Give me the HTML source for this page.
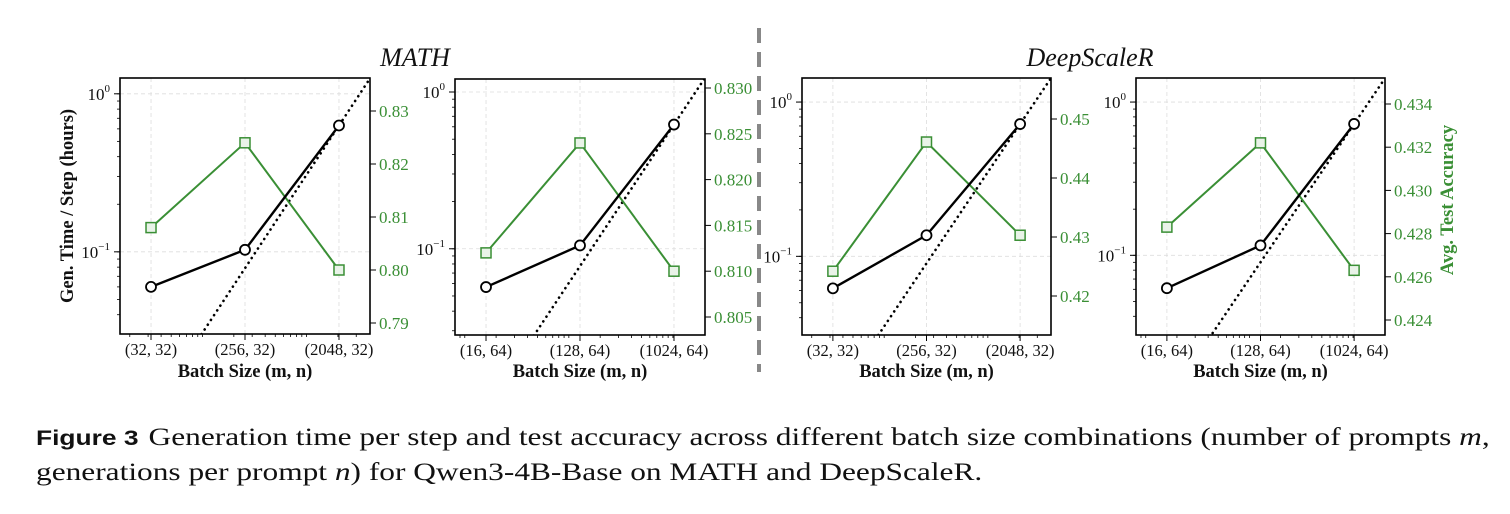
<!DOCTYPE html>
<html><head><meta charset="utf-8"><style>
body{margin:0;background:#fff;width:1510px;height:514px;overflow:hidden;position:relative;font-family:"Liberation Serif",serif}
#cap{position:absolute;left:36px;top:421px;font-size:25px;line-height:34px;color:#111;font-family:"Liberation Serif",serif;transform:scaleX(1.255);transform-origin:0 0;white-space:nowrap}
#cap b{font-family:"Liberation Sans",sans-serif;font-size:21px;margin-right:8px}
</style></head><body>
<svg id="chart" width="1510" height="400" style="position:absolute;left:0;top:0"></svg>
<div id="cap"><b>Figure 3</b>Generation time per step and test accuracy across different batch size combinations (number of prompts <i>m</i>,<br>generations per prompt <i>n</i>) for Qwen3-4B-Base on MATH and DeepScaleR.</div>
<script>
const mVals1=[32,256,2048];
const mVals2=[16,128,1024];
const nVals1=[32,32,32];
const nVals2=[64,64,64];
const timeP1=[0.060,0.103,0.63];
const timeP2=[0.057,0.105,0.62];
const timeP3=[0.062,0.137,0.72];
const timeP4=[0.061,0.116,0.72];
const accP1=[0.808,0.824,0.800];
const accP2=[0.812,0.824,0.810];
const accP3=[0.4242,0.4461,0.4303];
const accP4=[0.4283,0.4322,0.4263];
const accTicks1=[0.79,0.80,0.81,0.82,0.83];
const accTicks2=[0.805,0.810,0.815,0.820,0.825,0.830];
const accTicks3=[0.42,0.43,0.44,0.45];
const accTicks4=[0.424,0.426,0.428,0.430,0.432,0.434];
const accDec=[2,3,2,3];

const svg=document.getElementById('chart');
const NS='http://www.w3.org/2000/svg';
function mk(tag,attrs,parent){const e=document.createElementNS(NS,tag);for(const k in attrs)e.setAttribute(k,attrs[k]);(parent||svg).appendChild(e);return e;}
const GREEN='#3a8f35';

const panels=[
 {x0:120,x1:370,y0:78,y1:334,m:mVals1,n:nVals1,t:timeP1,a:accP1,at:accTicks1,yTop:0.1,yBot:-1.52,aTop:0.83,aTopY:111,aBot:0.79,aBotY:323},
 {x0:455,x1:705,y0:79,y1:335,m:mVals2,n:nVals2,t:timeP2,a:accP2,at:accTicks2,yTop:0.083,yBot:-1.55,aTop:0.830,aTopY:88,aBot:0.805,aBotY:317},
 {x0:802,x1:1051,y0:78,y1:335,m:mVals1,n:nVals1,t:timeP3,a:accP3,at:accTicks3,yTop:0.156,yBot:-1.51,aTop:0.45,aTopY:119,aBot:0.42,aBotY:296},
 {x0:1136,x1:1385,y0:78,y1:335,m:mVals2,n:nVals2,t:timeP4,a:accP4,at:accTicks4,yTop:0.157,yBot:-1.52,aTop:0.434,aTopY:104,aBot:0.424,aBotY:320}
];

panels.forEach((p,pi)=>{
  const g=mk('g',{});
  
  
  const lmin=Math.log10(p.m[0])-(Math.log10(p.m[2])-Math.log10(p.m[0]))*0.165;
  const lmax=Math.log10(p.m[2])+(Math.log10(p.m[2])-Math.log10(p.m[0]))*0.165;
  const X=v=>p.x0+(Math.log10(v)-lmin)/(lmax-lmin)*(p.x1-p.x0);
  const Y=v=>p.y0+(p.yTop-Math.log10(v))/(p.yTop-p.yBot)*(p.y1-p.y0);
  const A=v=>p.aTopY+(p.aTop-v)/(p.aTop-p.aBot)*(p.aBotY-p.aTopY);
  p.m.forEach(v=>{const l=mk('line',{x1:X(v),x2:X(v),y1:p.y0,y2:p.y1,stroke:'#ddd','stroke-dasharray':'4,3','stroke-width':0.8},g);});
  [1,0.1].forEach(v=>{const l=mk('line',{x1:p.x0,x2:p.x1,y1:Y(v),y2:Y(v),stroke:'#ddd','stroke-dasharray':'4,3','stroke-width':0.8},g);});
  for(let e=0;e<5;e++)for(let k=1;k<10;k++){const v=k*Math.pow(10,e);const xx=X(v);if(xx>p.x0+1&&xx<p.x1-1){mk('line',{x1:xx,x2:xx,y1:p.y1,y2:p.y1+3,stroke:'#000','stroke-width':0.8},g);}}
  for(let e=-2;e<1;e++)for(let k=1;k<10;k++){const v=k*Math.pow(10,e);const yy=Y(v);if(yy>p.y0+1&&yy<p.y1-1){mk('line',{x1:p.x0,x2:p.x0-3,y1:yy,y2:yy,stroke:'#000','stroke-width':0.8},g);}}
  [[1,'0'],[0.1,'\u22121']].forEach(([v,ex])=>{
    const yy=Y(v);mk('line',{x1:p.x0,x2:p.x0-6,y1:yy,y2:yy,stroke:'#000','stroke-width':1},g);
    const t=mk('text',{x:p.x0-10,y:yy+6,'text-anchor':'end','font-size':17,fill:'#111'},g);
    
    t.textContent='10';const s=mk('tspan',{dy:-8,'font-size':11},t);s.textContent=ex;
  });
  p.m.forEach((v,i)=>{
    mk('line',{x1:X(v),x2:X(v),y1:p.y1,y2:p.y1+6,stroke:'#000','stroke-width':1},g);
    const t=mk('text',{x:X(v),y:p.y1+21,'text-anchor':'middle','font-size':16.5,fill:'#111'},g);
    
    t.textContent='('+v+', '+p.n[i]+')';
  });
  p.at.forEach(v=>{
    const yy=A(v);mk('line',{x1:p.x1,x2:p.x1+6,y1:yy,y2:yy,stroke:'#000','stroke-width':1},g);
    const t=mk('text',{x:p.x1+9,y:yy+6,'font-size':17,fill:GREEN},g);
    
    t.textContent=v.toFixed(accDec[pi]);
  });
  const cid='c'+pi;const cp=mk('clipPath',{id:cid},g);mk('rect',{x:p.x0,y:p.y0,width:p.x1-p.x0,height:p.y1-p.y0},cp);
  const last=p.t[2],mL=p.m[2];const ma=Math.pow(10,lmin),mb=Math.pow(10,lmax);
  const dl=mk('line',{x1:X(ma),y1:Y(last*ma/mL),x2:X(mb),y2:Y(last*mb/mL),stroke:'#000','stroke-width':2.6,'stroke-dasharray':'0.1,5.6','stroke-linecap':'round','clip-path':'url(#'+cid+')'},g);
  
  const gl=mk('polyline',{points:p.m.map((v,i)=>X(v)+','+A(p.a[i])).join(' '),fill:'none',stroke:GREEN,'stroke-width':2},g);
  
  p.m.forEach((v,i)=>{const r=mk('rect',{x:X(v)-5,y:A(p.a[i])-5,width:10,height:10,fill:'#e9f3e8',stroke:GREEN,'stroke-width':1.5},g);});
  const bl=mk('polyline',{points:p.m.map((v,i)=>X(v)+','+Y(p.t[i])).join(' '),fill:'none',stroke:'#000','stroke-width':2.4},g);
  
  p.m.forEach((v,i)=>{const c=mk('circle',{cx:X(v),cy:Y(p.t[i]),r:5,fill:'#fff',stroke:'#000','stroke-width':1.8},g);});
  const fr=mk('rect',{x:p.x0,y:p.y0,width:p.x1-p.x0,height:p.y1-p.y0,fill:'none',stroke:'#000','stroke-width':1.6},g);
  
  const xl=mk('text',{x:(p.x0+p.x1)/2,y:377,'text-anchor':'middle','font-size':18.5,'font-weight':'bold',fill:'#111'},g);
  
  xl.textContent='Batch Size (m, n)';
});
function txt(attrs,content,name){const t=mk('text',attrs);t.textContent=content;return t;}
txt({x:415,y:66,'text-anchor':'middle','font-size':26,'font-style':'italic',fill:'#111'},'MATH','title-math');
txt({x:1090,y:66,'text-anchor':'middle','font-size':26,'font-style':'italic',fill:'#111'},'DeepScaleR','title-deepscaler');
txt({x:0,y:0,'text-anchor':'middle','font-size':18.5,'font-weight':'bold',fill:'#111',transform:'translate(73,206) rotate(-90)'},'Gen. Time / Step (hours)','y-axis-title-left');
txt({x:0,y:0,'text-anchor':'middle','font-size':18.5,'font-weight':'bold',fill:GREEN,transform:'translate(1453,200) rotate(-90)'},'Avg. Test Accuracy','y-axis-title-right');
const sep=mk('line',{x1:759,x2:759,y1:28,y2:372,stroke:'#888','stroke-width':4,'stroke-dasharray':'15,9'});

</script>
</body></html>
